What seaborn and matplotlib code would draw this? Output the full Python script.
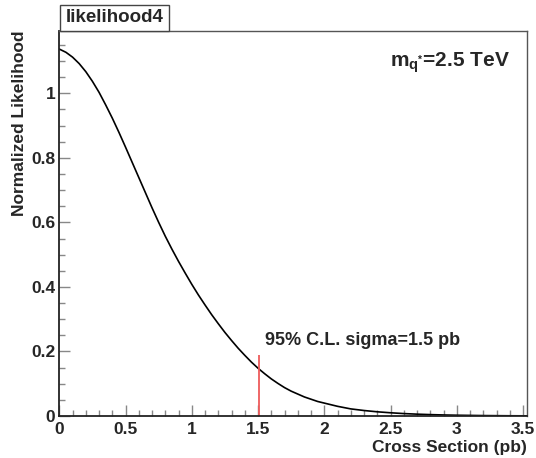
import matplotlib
matplotlib.use("Agg")
import matplotlib.pyplot as plt
from matplotlib.ticker import MultipleLocator, FuncFormatter
from matplotlib.patches import Rectangle
import seaborn as sns
import pandas as pd

# Normalized likelihood vs. cross section
cross_section = [0.00, 0.05, 0.10, 0.15, 0.20, 0.25, 0.30, 0.35, 0.40, 0.45,
                 0.50, 0.55, 0.60, 0.65, 0.70, 0.75, 0.80, 0.85, 0.90, 0.95,
                 1.00, 1.05, 1.10, 1.15, 1.20, 1.25, 1.30, 1.35, 1.40, 1.45,
                 1.50, 1.55, 1.60, 1.65, 1.70, 1.75, 1.80, 1.85, 1.90, 1.95,
                 2.00, 2.05, 2.10, 2.15, 2.20, 2.25, 2.30, 2.40, 2.50, 2.60,
                 2.70, 2.80, 2.90, 3.00, 3.20, 3.40, 3.53]
likelihood = [1.137, 1.127, 1.112, 1.092, 1.067, 1.037, 1.003, 0.964, 0.923, 0.879,
              0.833, 0.786, 0.739, 0.692, 0.645, 0.600, 0.557, 0.517, 0.479, 0.443,
              0.408, 0.375, 0.344, 0.314, 0.286, 0.259, 0.234, 0.210, 0.188, 0.167,
              0.148, 0.131, 0.115, 0.101, 0.088, 0.077, 0.068, 0.059, 0.052, 0.045,
              0.040, 0.035, 0.030, 0.026, 0.022, 0.0195, 0.017, 0.013, 0.010, 0.0075,
              0.0057, 0.0043, 0.0032, 0.0024, 0.0013, 0.0007, 0.0005]
limit_95 = 1.51
limit_marker_height = 0.19
mass_label = "2.5 TeV"
hist_title = "likelihood4"

df = pd.DataFrame({"Cross Section (pb)": cross_section,
                   "Normalized Likelihood": likelihood})

sns.set_style("ticks")
plt.rcParams["font.family"] = ["Liberation Sans", "DejaVu Sans"]
plt.rcParams["font.weight"] = "bold"
plt.rcParams["mathtext.fontset"] = "custom"
plt.rcParams["mathtext.rm"] = "Liberation Sans:bold"
plt.rcParams["mathtext.bf"] = "Liberation Sans:bold"
plt.rcParams["mathtext.it"] = "Liberation Sans:bold"

W, H = 536, 458
fig = plt.figure(figsize=(W / 100, H / 100), dpi=100)
ax_l, ax_r, ax_b, ax_t = 59.3, 527.0, 416.0, 31.0
ax = fig.add_axes([ax_l / W, 1 - ax_b / H, (ax_r - ax_l) / W, (ax_b - ax_t) / H])

sns.lineplot(data=df, x="Cross Section (pb)", y="Normalized Likelihood",
             ax=ax, color="black", linewidth=1.2)
ax.vlines(limit_95, 0, limit_marker_height, color="#ee5a5a", linewidth=1.3)

ax.set_xlim(0, 3.53)
ax.set_ylim(0, 1.193)
ax.set_xlabel("")
ax.set_ylabel("")

ax.xaxis.set_major_locator(MultipleLocator(0.5))
ax.xaxis.set_minor_locator(MultipleLocator(0.1))
ax.yaxis.set_major_locator(MultipleLocator(0.2))
ax.yaxis.set_minor_locator(MultipleLocator(0.05))
fmt = FuncFormatter(lambda v, p: "%g" % round(v, 3))
ax.xaxis.set_major_formatter(fmt)
ax.yaxis.set_major_formatter(fmt)

ax.tick_params(which="major", direction="in", length=8, width=1.0,
               color="#888888", labelsize=12.5, pad=4)
ax.tick_params(which="minor", direction="in", length=4.3, width=1.0,
               color="#888888")
ax.tick_params(axis="y", pad=3)
for lab in ax.get_xticklabels() + ax.get_yticklabels():
    lab.set_fontweight("bold")

for side in ("left", "bottom"):
    ax.spines[side].set_color("#222222")
    ax.spines[side].set_linewidth(1.3)
for side in ("top", "right"):
    ax.spines[side].set_visible(True)
    ax.spines[side].set_color("#555555")
    ax.spines[side].set_linewidth(1.0)

# axis titles, placed at the axis ends
fig.text(ax_r / W, 1 - 452 / H, "Cross Section (pb)", ha="right", va="baseline",
         fontsize=12.5, fontweight="bold")
fig.text(20 / W, 1 - ax_t / H, "Normalized Likelihood", rotation=90,
         ha="center", va="top", fontsize=12.5, fontweight="bold")

# annotations
ax.text(limit_95 + 0.04, 0.22, "95%% C.L. sigma=%.1f pb" % limit_95,
        fontsize=13, fontweight="bold", ha="left", va="baseline")
ax.text(0.707, 0.907, r"m$_{\mathbf{q^{*}}}$=" + mass_label, transform=ax.transAxes,
        fontsize=15, fontweight="bold", ha="left", va="baseline")

# title box
fig.patches.append(Rectangle((60 / W, 1 - 31 / H), 109 / W, 26 / H,
                             transform=fig.transFigure, facecolor="white",
                             edgecolor="#444444", linewidth=1.0))
fig.text(114.5 / W, 1 - 18 / H, hist_title, ha="center", va="center",
         fontsize=13.5, fontweight="bold")

fig.savefig("out.png", dpi=100)
